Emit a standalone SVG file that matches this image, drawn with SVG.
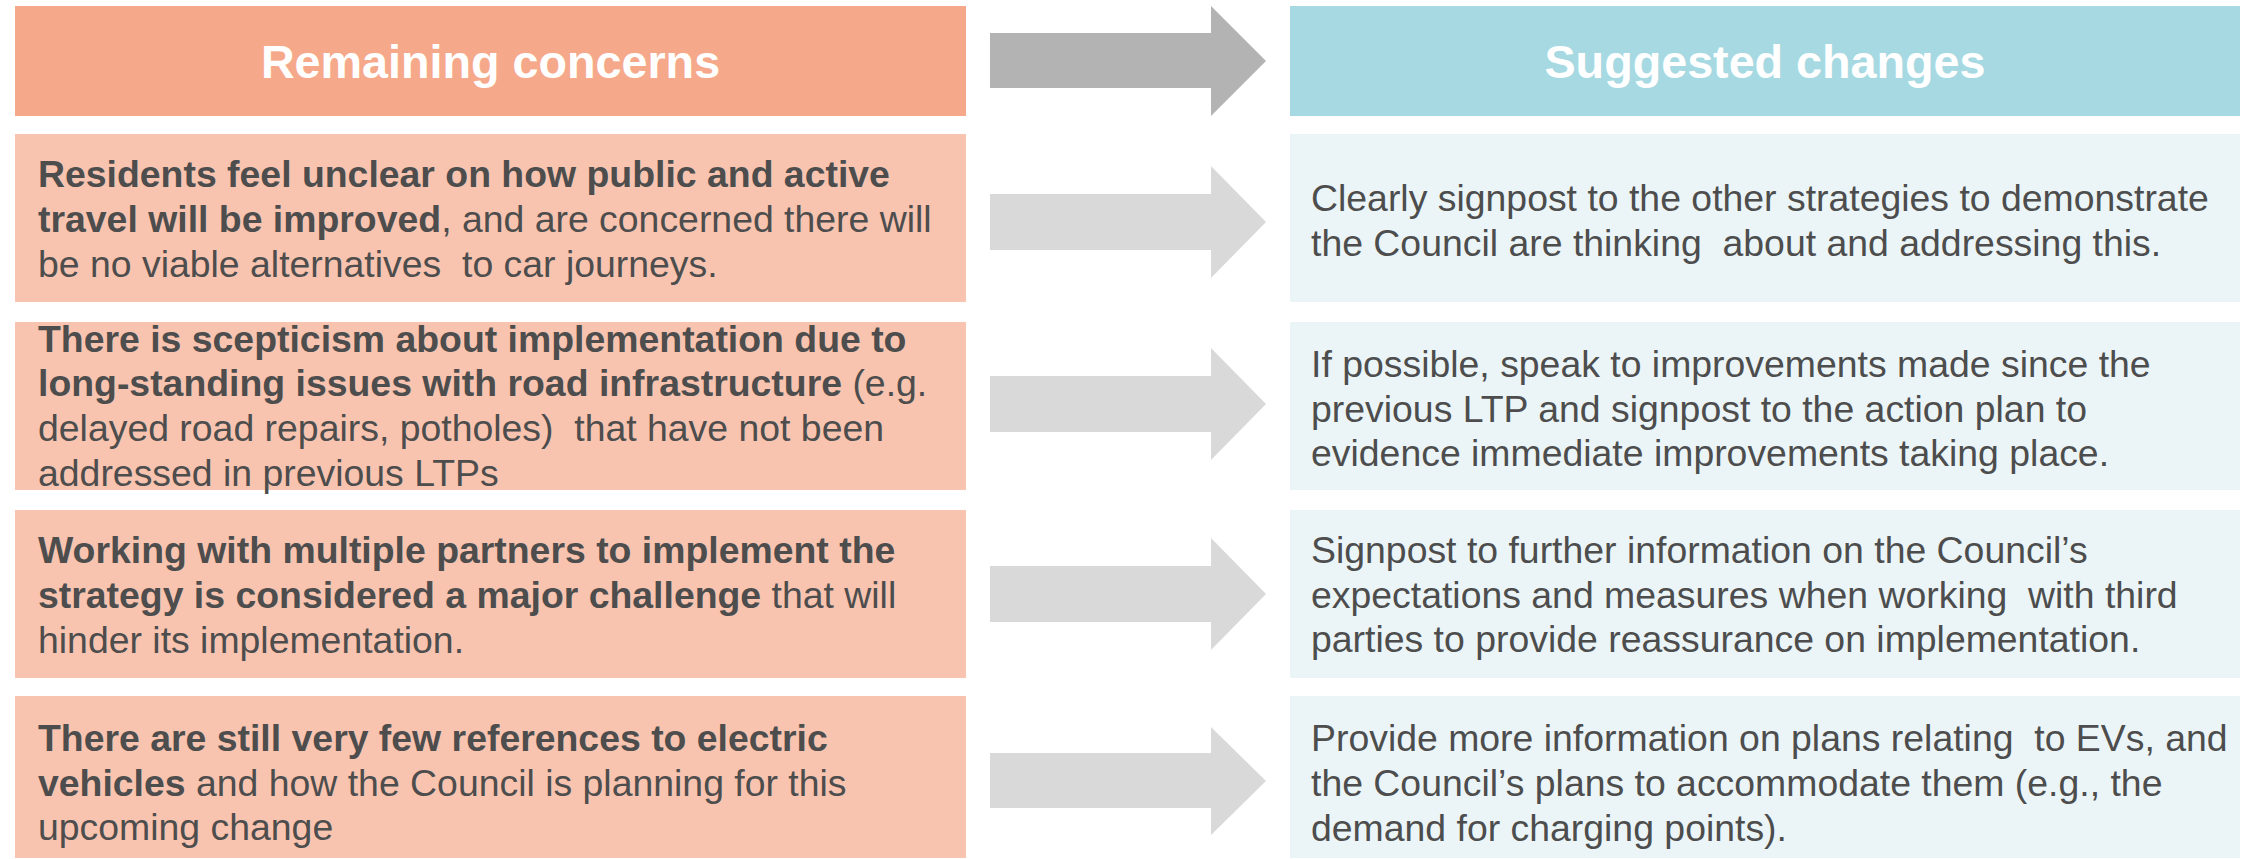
<svg xmlns="http://www.w3.org/2000/svg" width="2244" height="859" viewBox="0 0 2244 859">
<style>
text{font-family:"Liberation Sans",Arial,sans-serif;white-space:pre}
.hdr{font-size:46.7px;font-weight:bold;fill:#ffffff;text-anchor:middle}
.t{font-size:37.4px;fill:#4d4d4d}
.b{font-weight:bold}
.lh{fill:#f6a98a}
.rh{fill:#a7d9e2}
.lb{fill:#f8c4b0}
.rb{fill:#ebf5f8}
.ah{fill:#b3b3b3}
.ar{fill:#d9d9d9}
</style>
<rect width="2244" height="859" fill="#ffffff"/>
<g id="header-left"><rect class="lh" x="15" y="6" width="951" height="110"/><text class="hdr" x="490.5" y="78">Remaining concerns</text></g>
<g id="header-right"><rect class="rh" x="1290" y="6" width="950" height="110"/><text class="hdr" x="1765" y="78">Suggested changes</text></g>
<g id="concern-1"><rect class="lb" x="15" y="134" width="951" height="168"/>
<text class="t" x="38" y="187"><tspan class="b">Residents feel unclear on how public and active</tspan></text>
<text class="t" x="38" y="232"><tspan class="b">travel will be improved</tspan>, and are concerned there will</text>
<text class="t" x="38" y="277">be no viable alternatives  to car journeys.</text></g>
<g id="concern-2"><rect class="lb" x="15" y="322" width="951" height="168"/>
<text class="t" x="38" y="352"><tspan class="b">There is scepticism about implementation due to</tspan></text>
<text class="t" x="38" y="396"><tspan class="b">long-standing issues with road infrastructure</tspan> (e.g.</text>
<text class="t" x="38" y="441">delayed road repairs, potholes)  that have not been</text>
<text class="t" x="38" y="486">addressed in previous LTPs</text></g>
<g id="concern-3"><rect class="lb" x="15" y="510" width="951" height="168"/>
<text class="t" x="38" y="563"><tspan class="b">Working with multiple partners to implement the</tspan></text>
<text class="t" x="38" y="608"><tspan class="b">strategy is considered a major challenge</tspan> that will</text>
<text class="t" x="38" y="653">hinder its implementation.</text></g>
<g id="concern-4"><rect class="lb" x="15" y="696" width="951" height="162"/>
<text class="t" x="38" y="751"><tspan class="b">There are still very few references to electric</tspan></text>
<text class="t" x="38" y="796"><tspan class="b">vehicles</tspan> and how the Council is planning for this</text>
<text class="t" x="38" y="840">upcoming change</text></g>
<g id="change-1"><rect class="rb" x="1290" y="134" width="950" height="168"/>
<text class="t" x="1311" y="211">Clearly signpost to the other strategies to demonstrate</text>
<text class="t" x="1311" y="256">the Council are thinking  about and addressing this.</text></g>
<g id="change-2"><rect class="rb" x="1290" y="322" width="950" height="168"/>
<text class="t" x="1311" y="377">If possible, speak to improvements made since the</text>
<text class="t" x="1311" y="422">previous LTP and signpost to the action plan to</text>
<text class="t" x="1311" y="466">evidence immediate improvements taking place.</text></g>
<g id="change-3"><rect class="rb" x="1290" y="510" width="950" height="168"/>
<text class="t" x="1311" y="563">Signpost to further information on the Council’s</text>
<text class="t" x="1311" y="608">expectations and measures when working  with third</text>
<text class="t" x="1311" y="652">parties to provide reassurance on implementation.</text></g>
<g id="change-4"><rect class="rb" x="1290" y="696" width="950" height="162"/>
<text class="t" x="1311" y="751">Provide more information on plans relating  to EVs, and</text>
<text class="t" x="1311" y="796">the Council’s plans to accommodate them (e.g., the</text>
<text class="t" x="1311" y="841">demand for charging points).</text></g>
<g id="connectors">
<polygon class="ah" points="990,33 1211,33 1211,6 1266,61 1211,116 1211,88 990,88"/>
<polygon class="ar" points="990,194 1211,194 1211,166 1266,222 1211,278 1211,250 990,250"/>
<polygon class="ar" points="990,376 1211,376 1211,348 1266,404 1211,460 1211,432 990,432"/>
<polygon class="ar" points="990,566 1211,566 1211,538 1266,594 1211,650 1211,622 990,622"/>
<polygon class="ar" points="990,753 1211,753 1211,727 1266,781 1211,835 1211,808 990,808"/>
</g>
</svg>
